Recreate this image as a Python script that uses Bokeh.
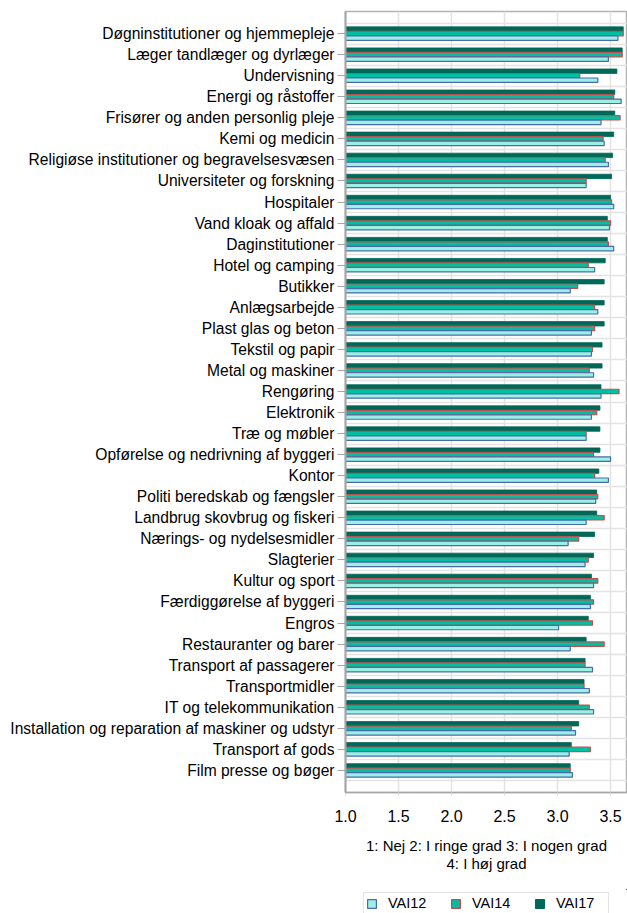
from bokeh.plotting import figure
from bokeh.models import (Range1d, FixedTicker, Legend, LegendItem, ColumnDataSource)
from bokeh.core.properties import value
from bokeh.layouts import column
from bokeh.transform import dodge
from bokeh.embed import file_html
from bokeh.resources import INLINE

categories = [
    "Døgninstitutioner og hjemmepleje",
    "Læger tandlæger og dyrlæger",
    "Undervisning",
    "Energi og råstoffer",
    "Frisører og anden personlig pleje",
    "Kemi og medicin",
    "Religiøse institutioner og begravelsesvæsen",
    "Universiteter og forskning",
    "Hospitaler",
    "Vand kloak og affald",
    "Daginstitutioner",
    "Hotel og camping",
    "Butikker",
    "Anlægsarbejde",
    "Plast glas og beton",
    "Tekstil og papir",
    "Metal og maskiner",
    "Rengøring",
    "Elektronik",
    "Træ og møbler",
    "Opførelse og nedrivning af byggeri",
    "Kontor",
    "Politi beredskab og fængsler",
    "Landbrug skovbrug og fiskeri",
    "Nærings- og nydelsesmidler",
    "Slagterier",
    "Kultur og sport",
    "Færdiggørelse af byggeri",
    "Engros",
    "Restauranter og barer",
    "Transport af passagerer",
    "Transportmidler",
    "IT og telekommunikation",
    "Installation og reparation af maskiner og udstyr",
    "Transport af gods",
    "Film presse og bøger",
]

vai12 = [3.57, 3.48, 3.38, 3.60, 3.41, 3.44, 3.48, 3.27, 3.53,
         3.49, 3.53, 3.35, 3.12, 3.38, 3.32, 3.32, 3.34, 3.41,
         3.32, 3.27, 3.50, 3.48, 3.36, 3.27, 3.10, 3.26, 3.34,
         3.31, 3.01, 3.12, 3.33, 3.30, 3.34, 3.17, 3.11, 3.14]
vai14 = [3.62, 3.61, 3.21, 3.53, 3.59, 3.43, 3.45, 3.27, 3.51,
         3.50, 3.48, 3.29, 3.19, 3.35, 3.35, 3.33, 3.30, 3.58,
         3.37, 3.27, 3.34, 3.35, 3.38, 3.44, 3.20, 3.29, 3.38,
         3.34, 3.33, 3.44, 3.26, 3.25, 3.30, 3.13, 3.31, 3.12]
vai17 = [3.62, 3.61, 3.56, 3.54, 3.54, 3.53, 3.52, 3.51, 3.50,
         3.47, 3.47, 3.45, 3.44, 3.44, 3.44, 3.42, 3.42, 3.41,
         3.40, 3.40, 3.40, 3.39, 3.37, 3.37, 3.35, 3.34, 3.32,
         3.31, 3.29, 3.27, 3.26, 3.25, 3.20, 3.20, 3.13, 3.12]

x_ticks = [1.0, 1.5, 2.0, 2.5, 3.0, 3.5]
x_tick_labels = ["1.0", "1.5", "2.0", "2.5", "3.0", "3.5"]
series_names = ["VAI12", "VAI14", "VAI17"]
x_axis_title = "1: Nej 2: I ringe grad 3: I nogen grad\n4: I høj grad"

FONT = "Liberation Sans"
COLORS = {"VAI12": ("#9BF0E6", "#4A6BAA"),
          "VAI14": ("#00BFA2", "#C0504D"),
          "VAI17": ("#006858", "#006858")}
W = 627
LEFT = 345
n = len(categories)
src = ColumnDataSource(dict(pos=list(range(n)), cat=categories,
                            vai12=vai12, vai14=vai14, vai17=vai17))

p = figure(width=W, height=889,
           x_range=Range1d(1.0, 3.66),
           y_range=Range1d(n - 1 + 1.05, -1.05),
           output_backend="svg", toolbar_location=None,
           min_border_left=LEFT, min_border_top=11, min_border_right=0,
           min_border_bottom=97)
p.background_fill_color = "white"
p.border_fill_color = "white"
p.outline_line_color = "#b3b3b3"
p.outline_line_width = 1.5

bar_h = 0.21
off = 0.215
r17 = p.hbar(y=dodge("pos", -off), left=p.x_range.start, right="vai17", height=bar_h,
             source=src, fill_color=COLORS["VAI17"][0], line_color=COLORS["VAI17"][1], line_width=0.8)
r14 = p.hbar(y=dodge("pos", 0.0), left=p.x_range.start, right="vai14", height=bar_h,
             source=src, fill_color=COLORS["VAI14"][0], line_color=COLORS["VAI14"][1], line_width=1.2)
r12 = p.hbar(y=dodge("pos", off), left=p.x_range.start, right="vai12", height=bar_h,
             source=src, fill_color=COLORS["VAI12"][0], line_color=COLORS["VAI12"][1], line_width=1.2)

# y axis
p.yaxis.ticker = FixedTicker(ticks=list(range(n)))
p.yaxis.major_label_overrides = {i: c for i, c in enumerate(categories)}
p.yaxis.major_label_text_font = FONT
p.yaxis.major_label_text_font_size = "15.6px"
p.yaxis.major_label_text_color = "#000000"
p.yaxis.major_tick_in = 0
p.yaxis.major_tick_out = 8
p.yaxis.major_tick_line_color = "#a6a6a6"
p.yaxis.minor_tick_line_color = None
p.yaxis.axis_line_color = "#a6a6a6"
p.yaxis.axis_line_width = 2
p.yaxis.major_label_standoff = 3

# x axis
p.xaxis.ticker = FixedTicker(ticks=x_ticks)
p.xaxis.major_label_overrides = {t: l for t, l in zip(x_ticks, x_tick_labels)}
p.xaxis.major_label_text_font = FONT
p.xaxis.major_label_text_font_size = "16px"
p.xaxis.major_label_text_color = "#000000"
p.xaxis.major_tick_in = 0
p.xaxis.major_tick_out = 3
p.xaxis.major_tick_line_color = "#d9d9d9"
p.xaxis.minor_tick_line_color = None
p.xaxis.axis_line_color = "#a6a6a6"
p.xaxis.axis_line_width = 1.5
p.xaxis.major_label_standoff = 14
p.xaxis.axis_label = x_axis_title
p.xaxis.axis_label_text_font = FONT
p.xaxis.axis_label_text_font_size = "15px"
p.xaxis.axis_label_text_font_style = "normal"
p.xaxis.axis_label_text_color = "#000000"
p.xaxis.axis_label_text_line_height = 1.1
p.xaxis.axis_label_standoff = 12

# grids
p.xgrid.ticker = FixedTicker(ticks=x_ticks)
p.xgrid.grid_line_color = "#e3e3e3"
p.xgrid.grid_line_width = 1.5
p.ygrid.ticker = FixedTicker(ticks=[i + 0.5 for i in range(-1, n)])
p.ygrid.grid_line_color = "#e3e3e3"
p.ygrid.grid_line_width = 1.5

# legend strip (separate small figure under the chart, same frame columns)
p2 = figure(width=W, height=24, x_range=Range1d(0, 1), y_range=Range1d(0, 1),
            output_backend="svg", toolbar_location=None,
            x_axis_type=None, y_axis_type=None,
            min_border_left=LEFT, min_border_right=0, min_border_top=0, min_border_bottom=0)
p2.outline_line_color = None
p2.grid.visible = False
p2.background_fill_color = "white"
p2.border_fill_color = "white"
lr = {}
for name in series_names:
    lr[name] = p2.hbar(y=dodge("pos", 5.0), left=p.x_range.start, right=name.lower(),
                       height=bar_h, source=src, fill_color=COLORS[name][0],
                       line_color=COLORS[name][1], line_width=1.2)
legend = Legend(items=[LegendItem(label=value(nm), renderers=[lr[nm]]) for nm in series_names],
                orientation="horizontal", location="top_center")
legend.label_text_font = FONT
legend.label_text_font_size = "14.5px"
legend.label_text_color = "#000000"
legend.glyph_width = 11
legend.glyph_height = 11
legend.label_standoff = 11
legend.label_width = 50
legend.spacing = 12
legend.padding = 2
legend.margin = 3
legend.border_line_color = "#c8c8c8"
legend.border_line_width = 1.5
p2.add_layout(legend, "center")

layout = column(p, p2, spacing=0)
open("out.html", "w").write(file_html(layout, INLINE))
